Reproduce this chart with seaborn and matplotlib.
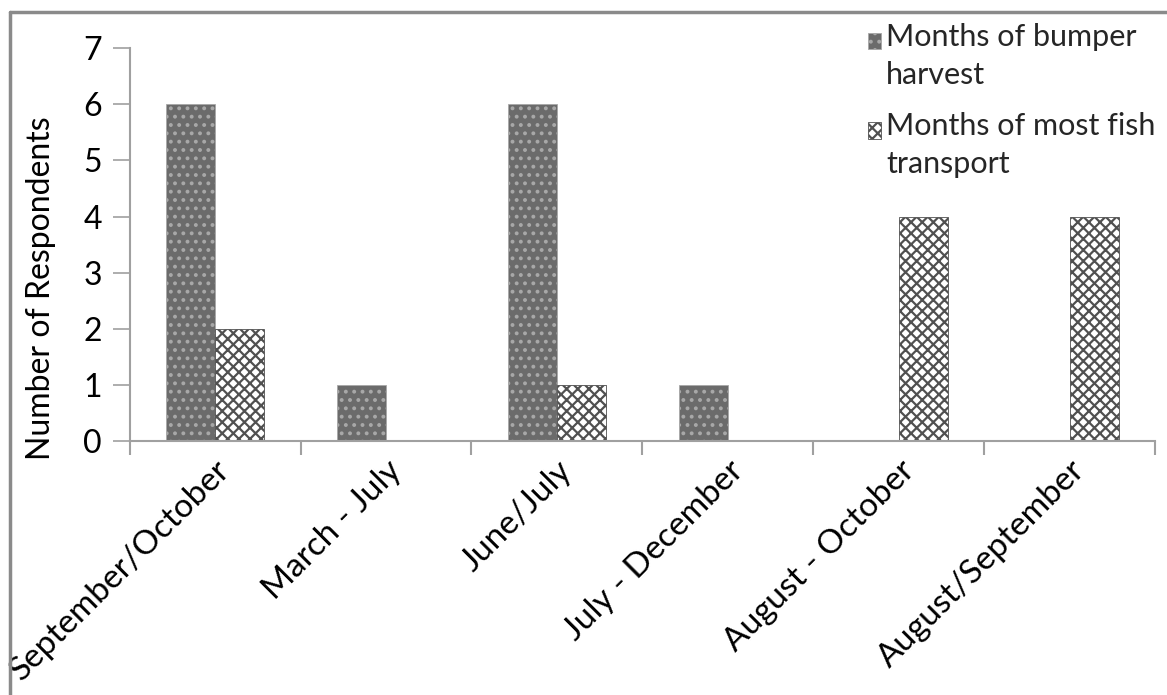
import matplotlib
matplotlib.use("Agg")
import matplotlib.pyplot as plt
import seaborn as sns
import pandas as pd
from matplotlib.lines import Line2D
from matplotlib.patches import Patch, Rectangle
from matplotlib.legend_handler import HandlerPatch

categories = ["September/October", "March - July", "June/July", "July - December",
              "August - October", "August/September"]
bumper_harvest = [6, 1, 6, 1, 0, 0]
fish_transport = [2, 0, 1, 0, 4, 4]
series_names = ["Months of bumper\nharvest", "Months of most fish\ntransport"]
y_ticks = [0, 1, 2, 3, 4, 5, 6, 7]

df = pd.DataFrame({
    "Month": categories * 2,
    "Value": bumper_harvest + fish_transport,
    "Series": [series_names[0]] * len(categories) + [series_names[1]] * len(categories),
})

sns.set_theme(style="white")
plt.rcParams["font.family"] = ["Lato", "DejaVu Sans"]
plt.rcParams["hatch.linewidth"] = 1.6

FS = 23

fig = plt.figure(figsize=(11.67, 6.95), dpi=100)
ax = fig.add_axes([0.111, 0.365, 0.879, 0.566])

sns.barplot(data=df, x="Month", y="Value", hue="Series", order=categories,
            hue_order=series_names, width=0.57, gap=0, ax=ax,
            palette=["#6b6b6b", "#ffffff"], saturation=1, legend=False)

n = len(categories)
for i, patch in enumerate(ax.patches[:2 * n]):
    if i < n:
        patch.set_facecolor("#6b6b6b")
        patch.set_edgecolor("#a8a8a8")
        patch.set_hatch("..")
        patch.set_linewidth(0.6)
    else:
        patch.set_facecolor("#ffffff")
        patch.set_edgecolor("#505050")
        patch.set_hatch("xxx")
        patch.set_linewidth(0.6)
    if patch.get_height() == 0:
        patch.set_visible(False)

ax.set_ylim(0, 7)
ax.set_yticks(y_ticks)
ax.set_xlim(-0.5, n - 0.5)
ax.set_xlabel("")
ax.set_ylabel("Number of Respondents", fontsize=FS, color="#000000")
ax.yaxis.set_label_coords(-0.072, 0.39)

for s in ["top", "right"]:
    ax.spines[s].set_visible(False)
for s in ["left", "bottom"]:
    ax.spines[s].set_color("#a0a0a0")
    ax.spines[s].set_linewidth(1.5)

ax.tick_params(axis="y", which="major", direction="out", length=12, width=1.2,
               color="#a0a0a0", labelsize=FS, labelcolor="#000000", pad=8, left=True)
ax.set_xticks([i - 0.5 for i in range(n + 1)], minor=True)
ax.tick_params(axis="x", which="minor", direction="out", length=10, width=1.5,
               color="#a0a0a0", bottom=True)
ax.tick_params(axis="x", which="major", length=0, labelsize=24, labelcolor="#000000", pad=10)
plt.setp(ax.get_xticklabels(), rotation=45, ha="right", rotation_mode="anchor")


# legend: handles aligned with the first text line
def _raised_patch(legend, orig_handle, xdescent, ydescent, width, height, fontsize):
    return Rectangle((-xdescent, -ydescent + 0.5 * fontsize), width, height)


handles = [Patch(facecolor="#6b6b6b", edgecolor="#a8a8a8", hatch="..", linewidth=0.6),
           Patch(facecolor="#ffffff", edgecolor="#505050", hatch="xxx", linewidth=0.6)]
leg = fig.legend(handles, series_names, loc="upper left", bbox_to_anchor=(0.733, 0.985),
                 frameon=False, fontsize=22, handlelength=0.45, handleheight=0.45,
                 handletextpad=0.15, labelspacing=0.75, borderaxespad=0,
                 handler_map={Patch: HandlerPatch(patch_func=_raised_patch)})
for t in leg.get_texts():
    t.set_linespacing(1.45)

# outer frame
fig.add_artist(Line2D([10 / 1167, 10 / 1167], [0, 1 - 12 / 695],
                      transform=fig.transFigure, color="#8a8a8a", lw=2.5))
fig.add_artist(Line2D([10 / 1167, 1], [1 - 12 / 695, 1 - 12 / 695],
                      transform=fig.transFigure, color="#8a8a8a", lw=2.5))

fig.savefig("out.png", dpi=100, facecolor="white")
